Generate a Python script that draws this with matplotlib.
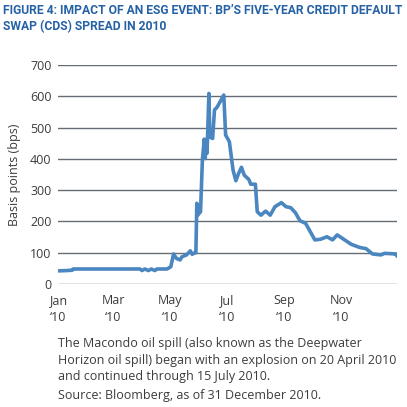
import matplotlib
matplotlib.use("Agg")
import matplotlib.pyplot as plt
import pandas as pd

# BP 5y CDS spread (bps)
DATES = [
    "2010-01-01", "2010-01-10", "2010-01-16", "2010-01-17", "2010-03-30",
    "2010-04-01", "2010-04-04", "2010-04-08", "2010-04-11", "2010-04-15",
    "2010-04-17", "2010-04-28", "2010-05-02", "2010-05-05", "2010-05-08",
    "2010-05-12", "2010-05-14", "2010-05-19", "2010-05-23", "2010-05-25",
    "2010-05-28", "2010-05-29", "2010-05-30", "2010-05-31", "2010-06-03",
    "2010-06-05", "2010-06-07", "2010-06-08", "2010-06-09", "2010-06-10",
    "2010-06-12", "2010-06-13", "2010-06-16", "2010-06-18", "2010-06-21",
    "2010-06-28", "2010-06-30", "2010-07-04", "2010-07-08", "2010-07-11",
    "2010-07-14", "2010-07-17", "2010-07-20", "2010-07-25", "2010-07-27",
    "2010-08-01", "2010-08-03", "2010-08-07", "2010-08-12", "2010-08-17",
    "2010-08-22", "2010-08-29", "2010-09-03", "2010-09-08", "2010-09-13",
    "2010-09-18", "2010-09-24", "2010-09-30", "2010-10-04", "2010-10-10",
    "2010-10-17", "2010-10-23", "2010-10-28", "2010-11-04", "2010-11-12",
    "2010-11-21", "2010-11-28", "2010-12-05", "2010-12-14", "2010-12-18",
    "2010-12-30", "2010-12-31",
]
SPREAD = [
    42, 43, 44, 48, 48,
    43, 48, 43, 48, 43,
    48, 48, 55, 96, 82,
    77, 87, 93, 106, 95,
    100, 100, 258, 220, 231,
    396, 463, 401, 449, 418,
    609, 470, 465, 556, 566,
    604, 476, 455, 364, 330,
    354, 373, 348, 334, 319,
    319, 231, 220, 233, 220,
    247, 260, 247, 244, 228,
    202, 194, 162, 141, 143,
    151, 141, 157, 143, 127,
    117, 113, 96, 93, 98,
    96, 91,
]

TICK_DATES = ["2010-01-01", "2010-03-01", "2010-05-01",
              "2010-07-01", "2010-09-01", "2010-11-01"]
TICK_LABELS = ["Jan\n\u201810", "Mar\n\u201810", "May\n\u201810",
               "Jul\n\u201810", "Sep\n\u201810", "Nov\n\u201810"]
Y_TICKS = [0, 100, 200, 300, 400, 500, 600, 700]

TITLE = ("FIGURE 4: IMPACT OF AN ESG EVENT: BP\u2019S FIVE-YEAR CREDIT DEFAULT\n"
         "SWAP (CDS) SPREAD IN 2010")
NOTE = ("The Macondo oil spill (also known as the Deepwater\n"
        "Horizon oil spill) began with an explosion on 20 April 2010\n"
        "and continued through 15 July 2010.")
SOURCE = "Source: Bloomberg, as of 31 December 2010."

LINE_COLOR = "#4A86C0"
GRID_COLOR = "#666C73"
TEXT_COLOR = "#3C3C3C"
TITLE_COLOR = "#2561A6"

plt.rcParams["font.family"] = ["Open Sans", "DejaVu Sans"]

fig = plt.figure(figsize=(4.07, 4.07), dpi=100)
ax = fig.add_axes([0.1432, 0.3022, 0.8315, 0.5381])

x = pd.to_datetime(DATES)
ax.plot(x, SPREAD, color=LINE_COLOR, linewidth=2.6, solid_joinstyle="round")

ax.set_xlim(pd.Timestamp("2010-01-01"), pd.Timestamp("2010-12-31"))
ax.set_ylim(0, 700)
ax.set_yticks(Y_TICKS)
ax.set_xticks(pd.to_datetime(TICK_DATES))
ax.set_xticklabels(TICK_LABELS)
ax.tick_params(axis="both", length=0, labelsize=9, labelcolor=TEXT_COLOR)
ax.tick_params(axis="y", pad=5)
ax.tick_params(axis="x", pad=7)
for lbl in ax.get_xticklabels():
    lbl.set_linespacing(1.45)

ax.yaxis.grid(True, color=GRID_COLOR, linewidth=1.0)
ax.set_axisbelow(True)
for spine in ax.spines.values():
    spine.set_visible(False)

ax.set_ylabel("Basis points (bps)", fontsize=9, color=TEXT_COLOR)
ax.yaxis.set_label_coords(-0.11, 0.5)

title = fig.text(0.008, 0.99, TITLE, ha="left", va="top", fontsize=10.5,
                 fontweight="bold", color=TITLE_COLOR, linespacing=1.25,
                 family=["Roboto", "DejaVu Sans"])
# shrink the title until it fits the picture width
renderer = fig.canvas.get_renderer()
while title.get_window_extent(renderer).width > 401:
    title.set_fontsize(title.get_fontsize() - 0.1)

fig.text(0.1432, 0.172, NOTE, ha="left", va="top", fontsize=9.0,
         color=TEXT_COLOR, linespacing=1.36)
fig.text(0.1432, 0.043, SOURCE, ha="left", va="top", fontsize=9.0,
         color=TEXT_COLOR)

fig.savefig("out.png", dpi=100, facecolor="white")
